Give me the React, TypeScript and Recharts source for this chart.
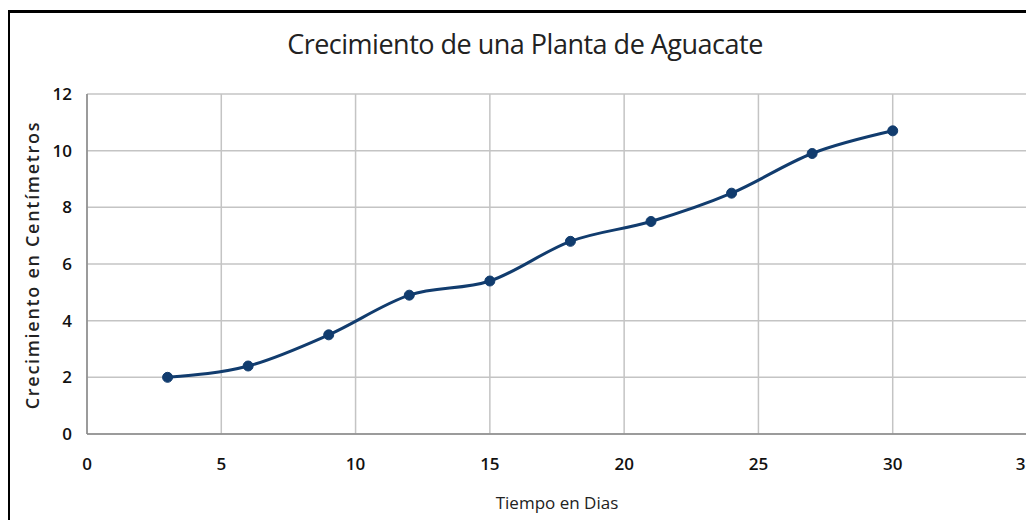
import { CartesianGrid, Line, LineChart, XAxis, YAxis } from "recharts";

const days = [3, 6, 9, 12, 15, 18, 21, 24, 27, 30];
const heights = [2.0, 2.4, 3.5, 4.9, 5.4, 6.8, 7.5, 8.5, 9.9, 10.7];
const xTicks = [0, 5, 10, 15, 20, 25, 30, 35];
const yTicks = [0, 2, 4, 6, 8, 10, 12];

const data = days.map((d, i) => ({ dia: d, cm: heights[i] }));

const font = "Open Sans, Liberation Sans, sans-serif";

export default function App() {
  return (
    <div style={{ position: "relative", width: 1034, height: 520, margin: "-8px 0 0 -8px", background: "#fff", overflow: "hidden", fontFamily: font }}>
      <div
        style={{
          position: "absolute",
          left: 7,
          top: 10,
          width: 1100,
          height: 600,
          borderLeft: "3px solid #000",
          borderTop: "3px solid #000",
        }}
      />
      <div
        style={{
          position: "absolute",
          left: 0,
          width: 1050,
          top: 25,
          textAlign: "center",
          fontSize: 27,
          color: "#222",
          letterSpacing: -0.5,
        }}
      >
        Crecimiento de una Planta de Aguacate
      </div>
      <div
        style={{
          position: "absolute",
          left: 32,
          top: 265,
          transform: "translate(-50%, -50%) rotate(-90deg)",
          whiteSpace: "nowrap",
          fontSize: 18,
          fontWeight: 600,
          letterSpacing: 1.7,
          color: "#222",
          zIndex: 2,
        }}
      >
        Crecimiento en Centímetros
      </div>
      <div style={{ position: "absolute", left: 0, top: 0 }}>
        <LineChart width={1034} height={520} data={data} margin={{ top: 94, right: 7, left: 27, bottom: 56 }}>
          <CartesianGrid stroke="#c4c4c4" strokeWidth={1.5} />
          <XAxis
            dataKey="dia"
            type="number"
            domain={[0, 35]}
            ticks={xTicks}
            height={30}
            tickSize={0}
            tickMargin={24}
            stroke="#888"
            strokeWidth={1.5}
            tick={{ fill: "#111", fontSize: 17, fontWeight: 600, fontFamily: font }}
            label={{ value: "Tiempo en Dias", position: "insideBottom", offset: -45, fill: "#222", fontSize: 17, fontWeight: 500, fontFamily: font }}
          />
          <YAxis
            type="number"
            domain={[0, 12]}
            ticks={yTicks}
            width={60}
            tickSize={0}
            tickMargin={15}
            stroke="#888"
            strokeWidth={1.5}
            tick={{ fill: "#111", fontSize: 17, fontWeight: 600, fontFamily: font }}
          />
          <Line
            type="monotone"
            dataKey="cm"
            stroke="#113c6e"
            strokeWidth={3}
            dot={{ r: 5, fill: "#113c6e", stroke: "#113c6e", strokeWidth: 1 }}
            isAnimationActive={false}
          />
        </LineChart>
      </div>
    </div>
  );
}
